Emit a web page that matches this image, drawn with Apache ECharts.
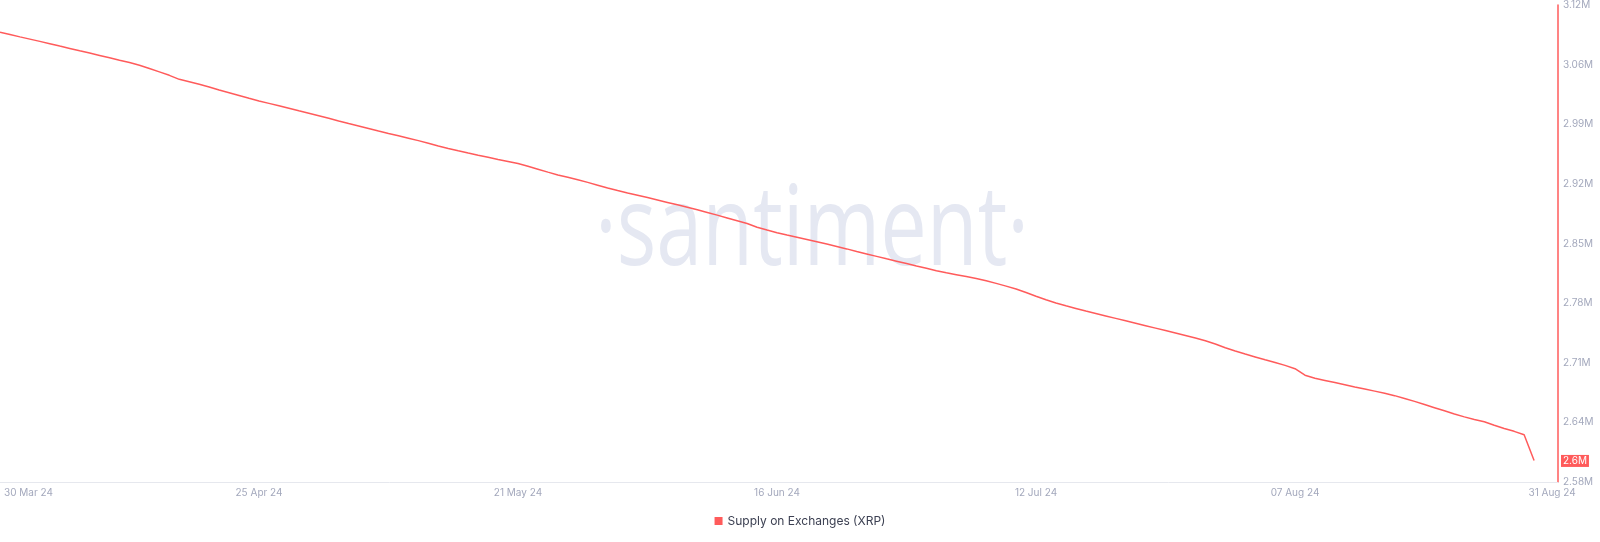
<!DOCTYPE html>
<html>
<head>
<meta charset="utf-8">
<script src="https://cdn.jsdelivr.net/npm/echarts@6/dist/echarts.min.js"></script>
<style>
html,body{margin:0;padding:0;background:#fff;}
#chart{width:1600px;height:542px;}
</style>
</head>
<body>
<div id="chart"></div>
<script>
// Supply on Exchanges (XRP), daily values in millions, 30 Mar 24 .. 31 Aug 24
const startDay = '2024-03-30';
const supplyValues = [
3.0925,3.0899,3.0872,3.0846,3.0820,3.0794,3.0766,3.0739,3.0712,3.0686,
3.0659,3.0632,3.0604,3.0577,3.0545,3.0508,3.0470,3.0430,3.0384,3.0356,
3.0327,3.0296,3.0262,3.0230,3.0198,3.0166,3.0135,3.0108,3.0080,3.0051,
3.0022,2.9994,2.9965,2.9936,2.9906,2.9877,2.9849,2.9820,2.9790,2.9762,
2.9735,2.9708,2.9680,2.9650,2.9618,2.9590,2.9563,2.9537,2.9512,2.9488,
2.9464,2.9441,2.9417,2.9386,2.9352,2.9318,2.9285,2.9258,2.9230,2.9200,
2.9168,2.9136,2.9106,2.9078,2.9052,2.9026,2.8998,2.8970,2.8942,2.8914,
2.8885,2.8855,2.8824,2.8792,2.8760,2.8728,2.8685,2.8652,2.8622,2.8595,
2.8570,2.8545,2.8519,2.8492,2.8464,2.8436,2.8406,2.8378,2.8350,2.8322,
2.8295,2.8268,2.8240,2.8213,2.8186,2.8162,2.8140,2.8118,2.8096,2.8070,
2.8040,2.8008,2.7975,2.7935,2.7892,2.7852,2.7815,2.7782,2.7752,2.7722,
2.7694,2.7666,2.7638,2.7610,2.7582,2.7554,2.7526,2.7498,2.7470,2.7441,
2.7412,2.7380,2.7343,2.7300,2.7262,2.7228,2.7195,2.7162,2.7130,2.7098,
2.7060,2.6985,2.6950,2.6925,2.6900,2.6875,2.6850,2.6826,2.6802,2.6777,
2.6750,2.6718,2.6684,2.6648,2.6612,2.6576,2.6540,2.6506,2.6476,2.6450,
2.6410,2.6372,2.6340,2.6300,2.6005
];
const xTickDates = ['2024-03-30','2024-04-25','2024-05-21','2024-06-16','2024-07-12','2024-08-07','2024-08-31'];
const xTickLabels = ['30 Mar 24','25 Apr 24','21 May 24','16 Jun 24','12 Jul 24','07 Aug 24','31 Aug 24'];
const yMin = 2.5758, yMax = 3.1238, yStep = 0.0685;
const yTickCount = 9;
const seriesName = 'Supply on Exchanges (XRP)';

const DAY = 86400000;
const t0 = Date.parse(startDay + 'T00:00:00Z');
const dayOf = d => Math.round((Date.parse(d + 'T00:00:00Z') - t0) / DAY);
// x position = days since startDay
const seriesData = supplyValues.map((v, i) => [i, v]);
const xTicks = xTickDates.map(dayOf);
const yTicks = Array.from({length: yTickCount}, (_, k) => yMin + k * yStep);
const lastVal = supplyValues[supplyValues.length - 1];

const RED = '#ff5b5b';
const LABEL = '#a3a8bc';

const chart = echarts.init(document.getElementById('chart'), null, {renderer: 'canvas'});
chart.setOption({
  animation: false,
  backgroundColor: '#fff',
  textStyle: {fontFamily: 'Inter, Roboto, sans-serif'},
  grid: {left: 0, right: 42, top: 5, bottom: 60, containLabel: false},
  graphic: [{
    type: 'text', z: -10, silent: true,
    x: 812, y: 233, scaleX: 0.74,
    style: {
      text: '\u00b7santiment\u00b7',
      font: '400 112px "Open Sans", sans-serif',
      fill: '#e5e8f2',
      textAlign: 'center', textVerticalAlign: 'middle'
    }
  }],
  legend: {
    data: [seriesName], bottom: 10, left: 'center',
    icon: 'rect', itemWidth: 8, itemHeight: 8, itemGap: 6,
    textStyle: {color: '#3c4052', fontSize: 12, fontFamily: 'Inter, sans-serif'}
  },
  xAxis: {
    type: 'value',
    min: 0,
    max: 156.4,
    axisLine: {show: true, onZero: false, lineStyle: {color: '#e6e8ee', width: 1}},
    axisTick: {show: false},
    splitLine: {show: false},
    axisLabel: {
      customValues: xTicks,
      color: LABEL, fontSize: 10, margin: 6,
      alignMinLabel: 'left',
      formatter: function (v) {
        const i = xTicks.indexOf(Math.round(v));
        if (i < 0) return '';
        if (i === 0) return '{first|' + xTickLabels[i] + '}';
        if (i === xTicks.length - 1) return '{last|' + xTickLabels[i] + '}';
        return xTickLabels[i];
      },
      rich: {
        first: {color: LABEL, fontSize: 10, padding: [0, 0, 0, 4]},
        last: {color: LABEL, fontSize: 10, padding: [0, 0, 0, 36]}
      }
    }
  },
  yAxis: {
    type: 'value',
    position: 'right',
    min: yMin, max: yMax,
    axisLine: {show: true, onZero: false, lineStyle: {color: RED, width: 1.5}},
    axisTick: {show: false},
    splitLine: {show: false},
    axisLabel: {
      customValues: yTicks,
      color: LABEL, fontSize: 10, margin: 5,
      formatter: v => v.toFixed(2) + 'M'
    }
  },
  series: [{
    name: seriesName,
    type: 'line',
    data: seriesData,
    showSymbol: false,
    symbol: 'none',
    lineStyle: {color: RED, width: 1.5},
    itemStyle: {color: RED},
    z: 5,
    markLine: {
      silent: true,
      symbol: 'none',
      lineStyle: {color: 'rgba(0,0,0,0)', width: 0},
      data: [{yAxis: lastVal}],
      label: {
        show: true,
        position: 'end',
        distance: 3,
        formatter: () => Number(lastVal.toFixed(2)) + 'M',
        color: '#fff', fontSize: 10,
        backgroundColor: RED,
        padding: [1, 2, 1, 2]
      }
    }
  }]
});
</script>
</body>
</html>
